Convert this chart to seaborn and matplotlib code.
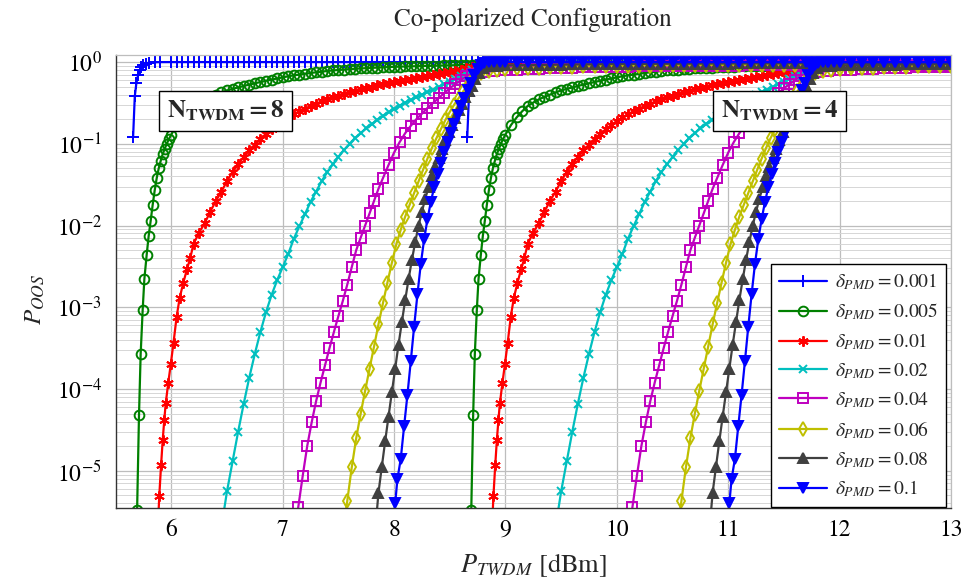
import matplotlib
matplotlib.use('Agg')
import matplotlib.pyplot as plt
import seaborn as sns
from matplotlib.ticker import LogLocator, NullFormatter, FixedLocator

# PMD coefficients shown in the legend
deltas = ['0.001', '0.005', '0.01', '0.02', '0.04', '0.06', '0.08', '0.1']

# shared power grids [dBm] where the slow curves were read (N_TWDM = 8 and N_TWDM = 4)
grid8 = [6.0, 6.05, 6.1, 6.15, 6.2, 6.25, 6.3, 6.35, 6.4, 6.45, 6.5, 6.55, 6.6, 6.65, 6.7, 6.75,
         6.8, 6.85, 6.9, 6.95, 7.0, 7.05, 7.1, 7.15, 7.2, 7.25, 7.3, 7.35, 7.4, 7.45, 7.5, 7.55,
         7.6, 7.65, 7.7, 7.75, 7.8, 7.85, 7.9, 7.95, 8.0, 8.05, 8.1, 8.15, 8.2, 8.25, 8.3, 8.35,
         8.4, 8.45, 8.5, 8.55, 8.6, 8.65, 8.7, 8.75, 8.8, 8.85, 8.9, 8.95]
grid4 = [9.0, 9.05, 9.1, 9.15, 9.2, 9.25, 9.3, 9.35, 9.4, 9.45, 9.5, 9.55, 9.6, 9.65, 9.7, 9.75,
         9.8, 9.85, 9.9, 9.95, 10.0, 10.05, 10.1, 10.15, 10.2, 10.25, 10.3, 10.35, 10.4, 10.45,
         10.5, 10.55, 10.6, 10.65, 10.7, 10.75, 10.8, 10.85, 10.9, 10.95, 11.0, 11.05, 11.1, 11.15,
         11.2, 11.25, 11.3, 11.35, 11.4, 11.45, 11.5, 11.55, 11.6, 11.65, 11.7, 11.75, 11.8, 11.85,
         11.9, 11.95]
# saturated tails
tail_x8 = [9.0, 9.1, 9.2, 9.3, 9.4, 9.5, 9.6, 9.7, 9.8, 9.9, 10.0, 10.1, 10.2, 10.3, 10.4, 10.5,
           10.6, 10.7, 10.8, 10.9, 11.0, 11.1, 11.2, 11.3, 11.4, 11.5, 11.6, 11.7, 11.8, 11.9, 12.0,
           12.1, 12.2, 12.3, 12.4, 12.5, 12.6, 12.7, 12.8, 12.9, 13.0]
tail_x4 = [12.0, 12.1, 12.2, 12.3, 12.4, 12.5, 12.6, 12.7, 12.8, 12.9, 13.0]

# delta = 0.001
x8_001 = [5.657, 5.672, 5.687, 5.702, 5.717, 5.732, 5.75, 5.77, 5.8, 5.85, 5.9] + grid8
x4_001 = [8.657, 8.672, 8.687, 8.702, 8.717, 8.732, 8.75, 8.77, 8.8, 8.85, 8.9] + grid4
p_001 = [0.12, 0.38, 0.56, 0.69, 0.79, 0.86, 0.92, 0.96, 0.985, 0.995, 0.999,
         1.0, 1.0, 1.0, 1.0, 1.0, 1.0, 1.0, 1.0, 1.0, 1.0, 1.0, 1.0, 1.0, 1.0, 1.0, 1.0, 1.0, 1.0,
         1.0, 1.0, 1.0, 1.0, 1.0, 1.0, 1.0, 1.0, 1.0, 1.0, 1.0, 1.0, 1.0, 1.0, 1.0, 1.0, 1.0, 1.0,
         1.0, 1.0, 1.0, 1.0, 1.0, 1.0, 1.0, 1.0, 1.0, 1.0, 1.0, 1.0, 1.0, 1.0, 1.0, 1.0, 1.0, 1.0,
         1.0, 1.0, 1.0, 1.0, 1.0, 1.0]
tail_001 = [1.0, 1.0, 1.0, 1.0, 1.0, 1.0, 1.0, 1.0, 1.0, 1.0, 1.0, 1.0, 1.0, 1.0, 1.0, 1.0, 1.0,
            1.0, 1.0, 1.0, 1.0, 1.0, 1.0, 1.0, 1.0, 1.0, 1.0, 1.0, 1.0, 1.0, 1.0, 1.0, 1.0, 1.0,
            1.0, 1.0, 1.0, 1.0, 1.0, 1.0, 1.0]

# delta = 0.005
x8_005 = [5.693, 5.710, 5.725, 5.743, 5.758, 5.779, 5.797, 5.815, 5.833, 5.851, 5.869, 5.887,
          5.905, 5.923, 5.941, 5.959, 5.977] + grid8
x4_005 = [8.693, 8.710, 8.725, 8.743, 8.758, 8.779, 8.797, 8.815, 8.833, 8.851, 8.869, 8.887,
          8.905, 8.923, 8.941, 8.959, 8.977] + grid4
p_005 = [3.3e-6, 4.8e-5, 2.7e-4, 9.3e-4, 2.2e-3, 4.4e-3, 7.5e-3, 0.0115, 0.018, 0.027, 0.038,
         0.050, 0.062, 0.075, 0.087, 0.10, 0.113,
         0.13, 0.17, 0.21, 0.25, 0.29, 0.32, 0.35, 0.375, 0.40, 0.425, 0.45, 0.47, 0.49, 0.51,
         0.53, 0.55, 0.57, 0.59, 0.61, 0.63, 0.65, 0.67, 0.69, 0.70, 0.72, 0.735, 0.75, 0.76,
         0.78, 0.79, 0.80, 0.81, 0.82, 0.828, 0.836, 0.843, 0.85, 0.856, 0.862, 0.869, 0.875,
         0.879, 0.883, 0.887, 0.89, 0.894, 0.898, 0.901, 0.905, 0.909, 0.912, 0.916, 0.92, 0.923,
         0.926, 0.928, 0.93, 0.933, 0.935, 0.938]
tail_005 = [0.94, 0.945, 0.95, 0.952, 0.955, 0.957, 0.96, 0.962, 0.965, 0.967, 0.97, 0.971, 0.972,
            0.974, 0.975, 0.976, 0.977, 0.978, 0.979, 0.98, 0.981, 0.982, 0.983, 0.983, 0.984,
            0.984, 0.985, 0.985, 0.986, 0.986, 0.987, 0.987, 0.988, 0.988, 0.989, 0.989, 0.99,
            0.99, 0.99, 0.991, 0.991]

# delta = 0.01
x8_01 = [5.875, 5.892, 5.908, 5.923, 5.937, 5.950, 5.973, 5.995, 6.02, 6.048, 6.075, 6.108, 6.14,
         6.17] + grid8[4:]
x4_01 = [8.875, 8.892, 8.908, 8.923, 8.937, 8.950, 8.973, 8.995, 9.02, 9.048, 9.075, 9.108, 9.14,
         9.17] + grid4[4:]
p_01 = [1.5e-6, 4.9e-6, 1.16e-5, 2.4e-5, 4.2e-5, 6.7e-5, 1.2e-4, 2.0e-4, 3.7e-4, 7.7e-4, 1.3e-3,
        2.0e-3, 2.9e-3, 4.0e-3,
        6.0e-3, 8.2e-3, 0.0107, 0.0148, 0.020, 0.026, 0.035, 0.045, 0.056, 0.069, 0.083, 0.098,
        0.115, 0.132, 0.15, 0.17, 0.19, 0.21, 0.23, 0.25, 0.27, 0.29, 0.31, 0.33, 0.35, 0.37,
        0.39, 0.41, 0.43, 0.447, 0.465, 0.483, 0.50, 0.52, 0.537, 0.556, 0.575, 0.592, 0.61,
        0.627, 0.645, 0.663, 0.682, 0.70, 0.72, 0.742, 0.765, 0.788, 0.81, 0.835, 0.86, 0.88,
        0.90, 0.91, 0.92, 0.925]
tail_01 = [0.93, 0.935, 0.94, 0.945, 0.95, 0.955, 0.958, 0.961, 0.964, 0.967, 0.97, 0.972, 0.973,
           0.975, 0.976, 0.977, 0.978, 0.979, 0.98, 0.981, 0.982, 0.983, 0.984, 0.984, 0.985,
           0.985, 0.986, 0.986, 0.987, 0.987, 0.988, 0.988, 0.989, 0.989, 0.99, 0.99, 0.99,
           0.991, 0.991, 0.991, 0.992]

# delta = 0.02
x8_02 = [6.46] + grid8[10:]
x4_02 = [9.46] + grid4[10:]
p_02 = [2.5e-6, 5.6e-6, 1.3e-5, 3.0e-5, 6.6e-5, 1.38e-4, 2.7e-4, 5.0e-4, 8.7e-4, 1.41e-3,
        2.14e-3, 3.1e-3, 4.5e-3, 6.9e-3, 9.8e-3, 0.0138, 0.0195, 0.026, 0.035, 0.045, 0.056,
        0.069, 0.084, 0.10, 0.117, 0.135, 0.154, 0.174, 0.196, 0.22, 0.243, 0.266, 0.293, 0.32,
        0.345, 0.37, 0.40, 0.43, 0.46, 0.495, 0.535, 0.575, 0.625, 0.676, 0.74, 0.81, 0.86, 0.89,
        0.898, 0.904, 0.908]
tail_02 = [0.91, 0.915, 0.92, 0.925, 0.93, 0.933, 0.935, 0.938, 0.94, 0.943, 0.945, 0.948, 0.95,
           0.952, 0.953, 0.955, 0.956, 0.958, 0.959, 0.96, 0.962, 0.963, 0.964, 0.965, 0.966,
           0.967, 0.968, 0.969, 0.97, 0.971, 0.972, 0.973, 0.974, 0.974, 0.975, 0.976, 0.977,
           0.977, 0.978, 0.979, 0.98]

# delta = 0.04
x8_04 = [7.11, 7.14, 7.18, 7.22, 7.26, 7.30, 7.34, 7.38, 7.42, 7.46, 7.50, 7.54, 7.58, 7.62, 7.66,
         7.70, 7.74, 7.78, 7.82, 7.86, 7.90, 7.95, 8.0, 8.05, 8.1, 8.15, 8.2, 8.25, 8.3, 8.35, 8.4,
         8.45, 8.5, 8.55, 8.6, 8.65, 8.7, 8.8, 8.9]
x4_04 = [10.11, 10.14, 10.18, 10.22, 10.26, 10.30, 10.34, 10.38, 10.42, 10.46, 10.50, 10.54, 10.58,
         10.62, 10.66, 10.70, 10.74, 10.78, 10.82, 10.86, 10.90, 10.95, 11.0, 11.05, 11.1, 11.15,
         11.2, 11.25, 11.3, 11.35, 11.4, 11.45, 11.5, 11.55, 11.6, 11.65, 11.7, 11.8, 11.9]
p_04 = [1.8e-6, 3.6e-6, 8.7e-6, 2.0e-5, 3.9e-5, 7.1e-5, 1.2e-4, 1.95e-4, 3.16e-4, 5.0e-4, 7.8e-4,
        1.2e-3, 1.9e-3, 3.1e-3, 5.0e-3, 7.1e-3, 0.010, 0.0141, 0.020, 0.0282, 0.038, 0.055, 0.078,
        0.105, 0.135, 0.166, 0.20, 0.234, 0.275, 0.316, 0.363, 0.417, 0.479, 0.537, 0.603, 0.676,
        0.724, 0.75, 0.775]
tail_04 = [0.80, 0.81, 0.82, 0.83, 0.84, 0.848, 0.855, 0.862, 0.868, 0.873, 0.878, 0.882, 0.886,
           0.889, 0.892, 0.895, 0.898, 0.90, 0.902, 0.904, 0.906, 0.908, 0.91, 0.912, 0.913, 0.915,
           0.916, 0.918, 0.919, 0.92, 0.921, 0.922, 0.923, 0.924, 0.925, 0.926, 0.927, 0.928,
           0.929, 0.93, 0.93]

# delta = 0.06
x8_06 = [7.55, 7.58, 7.62, 7.66, 7.70, 7.74, 7.78, 7.82, 7.86, 7.90, 7.94, 7.98, 8.02, 8.06, 8.10,
         8.14, 8.18, 8.22, 8.26, 8.30, 8.34, 8.38, 8.42, 8.46, 8.50, 8.54, 8.58, 8.62, 8.66, 8.70,
         8.74, 8.78, 8.85, 8.92]
x4_06 = [10.55, 10.58, 10.62, 10.66, 10.70, 10.74, 10.78, 10.82, 10.86, 10.90, 10.94, 10.98, 11.02,
         11.06, 11.10, 11.14, 11.18, 11.22, 11.26, 11.30, 11.34, 11.38, 11.42, 11.46, 11.50, 11.54,
         11.58, 11.62, 11.66, 11.70, 11.74, 11.78, 11.85, 11.92]
p_06 = [2.1e-6, 4.3e-6, 1.1e-5, 2.5e-5, 5.0e-5, 9.5e-5, 1.78e-4, 3.3e-4, 6.2e-4, 1.12e-3, 2.0e-3,
        3.5e-3, 5.9e-3, 8.9e-3, 0.0129, 0.018, 0.025, 0.0347, 0.048, 0.066, 0.089, 0.117, 0.151,
        0.195, 0.245, 0.302, 0.363, 0.437, 0.519, 0.60, 0.684, 0.741, 0.785, 0.80]
tail_06 = [0.82, 0.835, 0.848, 0.858, 0.866, 0.873, 0.879, 0.884, 0.889, 0.893, 0.897, 0.90, 0.903,
           0.906, 0.909, 0.911, 0.913, 0.915, 0.917, 0.919, 0.921, 0.922, 0.924, 0.925, 0.927,
           0.928, 0.929, 0.93, 0.931, 0.932, 0.933, 0.934, 0.935, 0.936, 0.937, 0.938, 0.939,
           0.94, 0.94, 0.941, 0.942]

# delta = 0.08
x8_08 = [7.83, 7.86, 7.89, 7.92, 7.95, 7.98, 8.01, 8.04, 8.07, 8.10, 8.13, 8.16, 8.19, 8.22, 8.25,
         8.28, 8.31, 8.34, 8.37, 8.40, 8.43, 8.46, 8.49, 8.52, 8.55, 8.58, 8.61, 8.64, 8.67, 8.70,
         8.73, 8.76, 8.80, 8.85, 8.92]
x4_08 = [10.83, 10.86, 10.89, 10.92, 10.95, 10.98, 11.01, 11.04, 11.07, 11.10, 11.13, 11.16, 11.19,
         11.22, 11.25, 11.28, 11.31, 11.34, 11.37, 11.40, 11.43, 11.46, 11.49, 11.52, 11.55, 11.58,
         11.61, 11.64, 11.67, 11.70, 11.73, 11.76, 11.80, 11.85, 11.92]
p_08 = [1.8e-6, 5.4e-6, 1.12e-5, 2.3e-5, 4.6e-5, 9.1e-5, 1.78e-4, 3.5e-4, 6.6e-4, 1.23e-3, 2.2e-3,
        3.8e-3, 6.3e-3, 0.010, 0.0148, 0.0214, 0.0295, 0.040, 0.0525, 0.0676, 0.087, 0.11, 0.138,
        0.17, 0.209, 0.257, 0.309, 0.372, 0.437, 0.513, 0.617, 0.741, 0.851, 0.891, 0.905]
tail_08 = [0.912, 0.916, 0.92, 0.924, 0.928, 0.932, 0.935, 0.938, 0.94, 0.943, 0.945, 0.947, 0.95,
           0.951, 0.953, 0.955, 0.956, 0.957, 0.958, 0.959, 0.96, 0.961, 0.962, 0.963, 0.963,
           0.964, 0.964, 0.965, 0.965, 0.966, 0.966, 0.967, 0.967, 0.968, 0.968, 0.969, 0.969,
           0.97, 0.97, 0.97, 0.97]

# delta = 0.1
x8_1 = [7.99, 8.01, 8.03, 8.06, 8.09, 8.12, 8.15, 8.18, 8.21, 8.24, 8.27, 8.30, 8.33, 8.36, 8.39,
        8.42, 8.45, 8.48, 8.51, 8.54, 8.57, 8.60, 8.63, 8.66, 8.69, 8.72, 8.75, 8.78, 8.81, 8.85,
        8.9, 8.95]
x4_1 = [10.99, 11.01, 11.03, 11.06, 11.09, 11.12, 11.15, 11.18, 11.21, 11.24, 11.27, 11.30, 11.33,
        11.36, 11.39, 11.42, 11.45, 11.48, 11.51, 11.54, 11.57, 11.60, 11.63, 11.66, 11.69, 11.72,
        11.75, 11.78, 11.81, 11.85, 11.9, 11.95]
p_1 = [1.8e-6, 4.0e-6, 7.9e-6, 1.4e-5, 3.5e-5, 8.5e-5, 2.2e-4, 5.8e-4, 1.45e-3, 3.4e-3, 6.8e-3,
       0.012, 0.0195, 0.0295, 0.0427, 0.059, 0.079, 0.105, 0.135, 0.174, 0.224, 0.288, 0.363, 0.457,
       0.562, 0.69, 0.83, 0.93, 0.977, 0.993, 0.998, 1.0]
tail_1 = [1.0, 1.0, 1.0, 1.0, 1.0, 1.0, 1.0, 1.0, 1.0, 1.0, 1.0, 1.0, 1.0, 1.0, 1.0, 1.0, 1.0, 1.0,
          1.0, 1.0, 1.0, 1.0, 1.0, 1.0, 1.0, 1.0, 1.0, 1.0, 1.0, 1.0, 1.0, 1.0, 1.0, 1.0, 1.0, 1.0,
          1.0, 1.0, 1.0, 1.0, 1.0]

curves = [
    (x8_001, x4_001, p_001, tail_001),
    (x8_005, x4_005, p_005, tail_005),
    (x8_01, x4_01, p_01, tail_01),
    (x8_02, x4_02, p_02, tail_02),
    (x8_04, x4_04, p_04, tail_04),
    (x8_06, x4_06, p_06, tail_06),
    (x8_08, x4_08, p_08, tail_08),
    (x8_1, x4_1, p_1, tail_1),
]

colors = ['#0000ff', '#008000', '#ff0000', '#00bfbf', '#bf00bf', '#bfbf00', '#404040', '#0000ff']
markers = ['+', 'o', (6, 2, 0), 'x', 's', 'd', '^', 'v']
open_marker = [False, True, False, False, True, True, False, False]
marker_sizes = [8, 7, 7.5, 6, 7, 7.5, 7, 7]

sns.set_style('white')
plt.rcParams['font.family'] = ['STIXGeneral', 'DejaVu Serif']
plt.rcParams['mathtext.fontset'] = 'stix'

fig = plt.figure(figsize=(9.61, 5.81), dpi=100)
ax = fig.add_axes([0.1203, 0.1256, 0.8693, 0.7797])

for d, (x8, x4, p, tail), c, m, o, ms in zip(deltas, curves, colors, markers, open_marker, marker_sizes):
    style = dict(color=c, marker=m, markersize=ms, markeredgewidth=1.4, markeredgecolor=c,
                 markerfacecolor='none' if o else c, linewidth=1.6, estimator=None,
                 errorbar=None, legend=False, ax=ax)
    sns.lineplot(x=x8 + tail_x8, y=p + tail, label=rf'$\delta_{{PMD}} = {d}$', **style)
    y4 = (p + tail)[:len(x4) + len(tail_x4)]
    sns.lineplot(x=x4 + tail_x4, y=y4, label='_nolegend_', **style)

ax.set_yscale('log')
ax.set_xlim(5.5, 13)
ax.set_ylim(3.5e-6, 1.22)
ax.xaxis.set_major_locator(FixedLocator([6, 7, 8, 9, 10, 11, 12, 13]))
ax.yaxis.set_major_locator(LogLocator(base=10, numticks=10))
ax.yaxis.set_minor_locator(LogLocator(base=10, subs=[2, 3, 4, 5, 6, 7, 8, 9], numticks=20))
ax.yaxis.set_minor_formatter(NullFormatter())

ax.grid(True, which='major', color='#bdbdbd', linewidth=0.9)
ax.grid(True, which='minor', axis='y', color='#d6d6d6', linewidth=0.7)
ax.set_axisbelow(True)

for side in ['left', 'bottom']:
    ax.spines[side].set_color('#333333')
    ax.spines[side].set_linewidth(1.0)
for side in ['top', 'right']:
    ax.spines[side].set_color('#bdbdbd')
    ax.spines[side].set_linewidth(0.9)

ax.tick_params(which='both', direction='in', colors='#333333', labelcolor='black')
ax.tick_params(which='major', length=5, labelsize=17, pad=8)
ax.tick_params(which='minor', length=3)
ax.tick_params(axis='y', which='major', pad=10)

ax.set_title('Co-polarized Configuration', fontsize=18, pad=21)
ax.set_xlabel(r'$P_{TWDM}$ [dBm]', fontsize=19)
ax.xaxis.set_label_coords(0.5, -0.126)
ax.xaxis.label.set_va('center')
ax.set_ylabel(r'$P_{OOS}$', fontsize=18)
ax.yaxis.set_label_coords(-0.096, 0.46)
ax.yaxis.label.set_va('center')

box = dict(boxstyle='square,pad=0.3', facecolor='white', edgecolor='black', linewidth=1.0)
ax.text(6.49, 0.25, r'$\mathbf{N_{TWDM} = 8}$', fontsize=18, ha='center', va='center',
        bbox=box, zorder=6)
ax.text(11.46, 0.25, r'$\mathbf{N_{TWDM} = 4}$', fontsize=18, ha='center', va='center',
        bbox=box, zorder=6)

leg = ax.legend(loc='lower right', bbox_to_anchor=(1 - 5 / 835, 0.002), borderaxespad=0,
                fontsize=14, frameon=True, fancybox=False, framealpha=1, edgecolor='black',
                borderpad=0.4, labelspacing=0.47, handlelength=2.5, handletextpad=0.4)
leg.get_frame().set_linewidth(1.0)
leg.set_zorder(7)

fig.savefig('out.png', dpi=100)
